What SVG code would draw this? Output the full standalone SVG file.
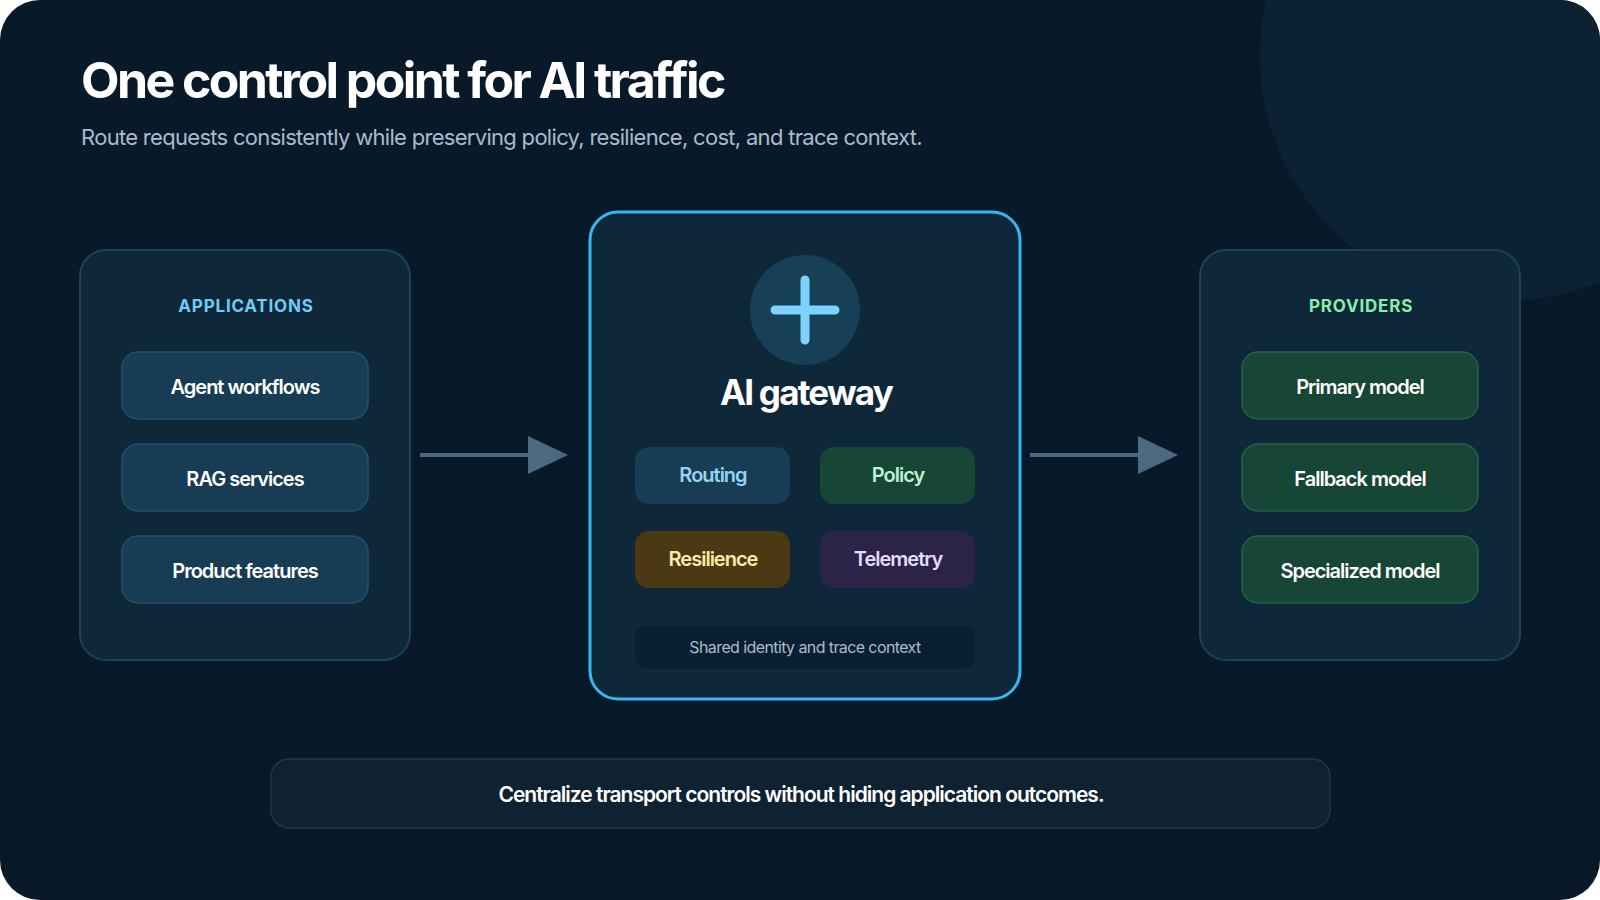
<svg xmlns="http://www.w3.org/2000/svg" width="1600" height="900" viewBox="0 0 1600 900">
<defs>
<style>
text{font-family:Inter,"Noto Sans",sans-serif;text-anchor:middle}
.panel{fill:#0e2739;stroke:#1d4257;stroke-width:2}
.app{fill:#173c53;stroke:#21506a;stroke-width:1.5}
.prov{fill:#174536;stroke:#23614c;stroke-width:1.5}
.item{fill:#ffffff;font-size:20px;font-weight:600;letter-spacing:-1px}
.chip{font-size:20px;font-weight:600;letter-spacing:-1px}
.conn{stroke:#4b6a82;stroke-width:4;fill:none}
</style>
<clipPath id="bg"><rect x="0" y="0" width="1600" height="900" rx="40"/></clipPath>
</defs>
<rect x="0" y="0" width="1600" height="900" fill="#ffffff"/>
<rect x="0" y="0" width="1600" height="900" rx="40" fill="#081a29"/>
<circle cx="1505" cy="56" r="245" fill="#0c2232" clip-path="url(#bg)"/>
<text x="81" y="98" style="text-anchor:start;font-size:50px;font-weight:700;letter-spacing:-2.6px" fill="#ffffff">One control point for AI traffic</text>
<text x="81" y="145" style="text-anchor:start;font-size:22px;letter-spacing:-0.7px" fill="#a9bccb">Route requests consistently while preserving policy, resilience, cost, and trace context.</text>

<g id="applications">
<rect class="panel" x="80" y="250" width="330" height="410" rx="26"/>
<text x="246" y="312" style="font-size:17px;font-weight:700;letter-spacing:0.8px" fill="#6fcdf3">APPLICATIONS</text>
<rect class="app" x="122" y="352" width="246" height="67" rx="16"/>
<text class="item" x="245" y="394">Agent workflows</text>
<rect class="app" x="122" y="444" width="246" height="67" rx="16"/>
<text class="item" x="245" y="486">RAG services</text>
<rect class="app" x="122" y="536" width="246" height="67" rx="16"/>
<text class="item" x="245" y="578">Product features</text>
</g>

<g id="gateway">
<rect x="590" y="212" width="430" height="487" rx="28" fill="#0e2739" stroke="#38b6ef" stroke-width="3"/>
<circle cx="805" cy="310" r="55" fill="#173f56"/>
<path d="M805 280 V340 M775 310 H835" stroke="#7dd3fc" stroke-width="9" stroke-linecap="round"/>
<text x="806" y="405" style="font-size:35px;font-weight:700;letter-spacing:-1.8px" fill="#ffffff">AI gateway</text>
<rect x="635" y="447" width="155" height="57" rx="14" fill="#173c53"/>
<text class="chip" x="713" y="482" fill="#93d4f5">Routing</text>
<rect x="820" y="447" width="155" height="57" rx="14" fill="#174536"/>
<text class="chip" x="898" y="482" fill="#bcf1d4">Policy</text>
<rect x="635" y="531" width="155" height="57" rx="14" fill="#4a3912"/>
<text class="chip" x="713" y="566" fill="#fde9a8">Resilience</text>
<rect x="820" y="531" width="155" height="57" rx="14" fill="#2b2348"/>
<text class="chip" x="898" y="566" fill="#e3dcfb">Telemetry</text>
<rect x="635" y="625" width="340" height="44" rx="12" fill="#0b1f32"/>
<text x="805" y="653" style="font-size:16px;letter-spacing:-0.6px" fill="#a9bccb">Shared identity and trace context</text>
</g>

<g id="providers">
<rect class="panel" x="1200" y="250" width="320" height="410" rx="26"/>
<text x="1361" y="312" style="font-size:17px;font-weight:700;letter-spacing:0.8px" fill="#86efac">PROVIDERS</text>
<rect class="prov" x="1242" y="352" width="236" height="67" rx="16"/>
<text class="item" x="1360" y="394">Primary model</text>
<rect class="prov" x="1242" y="444" width="236" height="67" rx="16"/>
<text class="item" x="1360" y="486">Fallback model</text>
<rect class="prov" x="1242" y="536" width="236" height="67" rx="16"/>
<text class="item" x="1360" y="578">Specialized model</text>
</g>

<g id="connectors">
<line class="conn" x1="420" y1="455" x2="528" y2="455"/>
<path d="M528 436 L568 455 L528 474 z" fill="#4b6a82"/>
<line class="conn" x1="1030" y1="455" x2="1138" y2="455"/>
<path d="M1138 436 L1178 455 L1138 474 z" fill="#4b6a82"/>
</g>

<g id="summary">
<rect x="271" y="759" width="1059" height="69" rx="18" fill="#0e2232" stroke="#1c3a4e" stroke-width="1.5"/>
<text x="801" y="802" style="font-size:21px;font-weight:600;letter-spacing:-1px" fill="#ffffff">Centralize transport controls without hiding application outcomes.</text>
</g>
</svg>
